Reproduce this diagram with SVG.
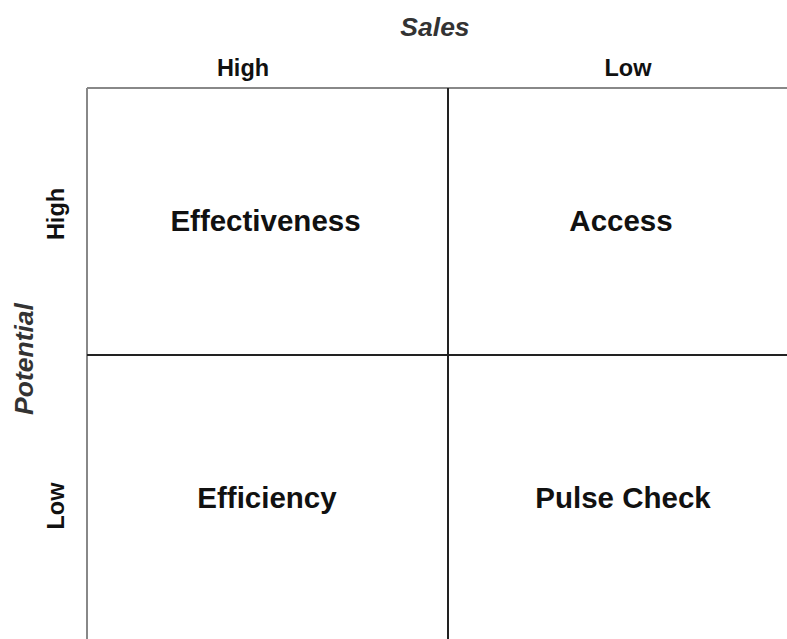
<svg xmlns="http://www.w3.org/2000/svg" width="787" height="639" viewBox="0 0 787 639">
<style>
text{font-family:"Liberation Sans",Arial,sans-serif;font-weight:bold;fill:#111;text-anchor:middle}
.axis{font-size:26.5px;font-style:italic;fill:#333}
.lvl{font-size:23.5px}
.q{font-size:29.5px}
.grid{stroke:#222;stroke-width:2;fill:none}
.edge{stroke:#888;stroke-width:2;fill:none}
</style>
<rect width="787" height="639" fill="#fff"/>
<g id="axes">
<text class="axis" x="435" y="36">Sales</text>
<text class="lvl" x="243" y="76">High</text>
<text class="lvl" x="628" y="76">Low</text>
<text class="axis" transform="translate(33,359) rotate(-90)">Potential</text>
<text class="lvl" transform="translate(64,214) rotate(-90)">High</text>
<text class="lvl" transform="translate(64,506) rotate(-90)">Low</text>
</g>
<g id="connectors">
<line class="edge" x1="87" y1="88" x2="787" y2="88"/>
<line class="edge" x1="87" y1="88" x2="87" y2="639"/>
<line class="grid" x1="448" y1="88" x2="448" y2="639"/>
<line class="grid" x1="87" y1="355" x2="787" y2="355"/>
</g>
<g id="effectiveness"><text class="q" x="265.5" y="231">Effectiveness</text></g>
<g id="access"><text class="q" x="621" y="231">Access</text></g>
<g id="efficiency"><text class="q" x="267" y="508">Efficiency</text></g>
<g id="pulse-check"><text class="q" x="623" y="508">Pulse Check</text></g>
</svg>
